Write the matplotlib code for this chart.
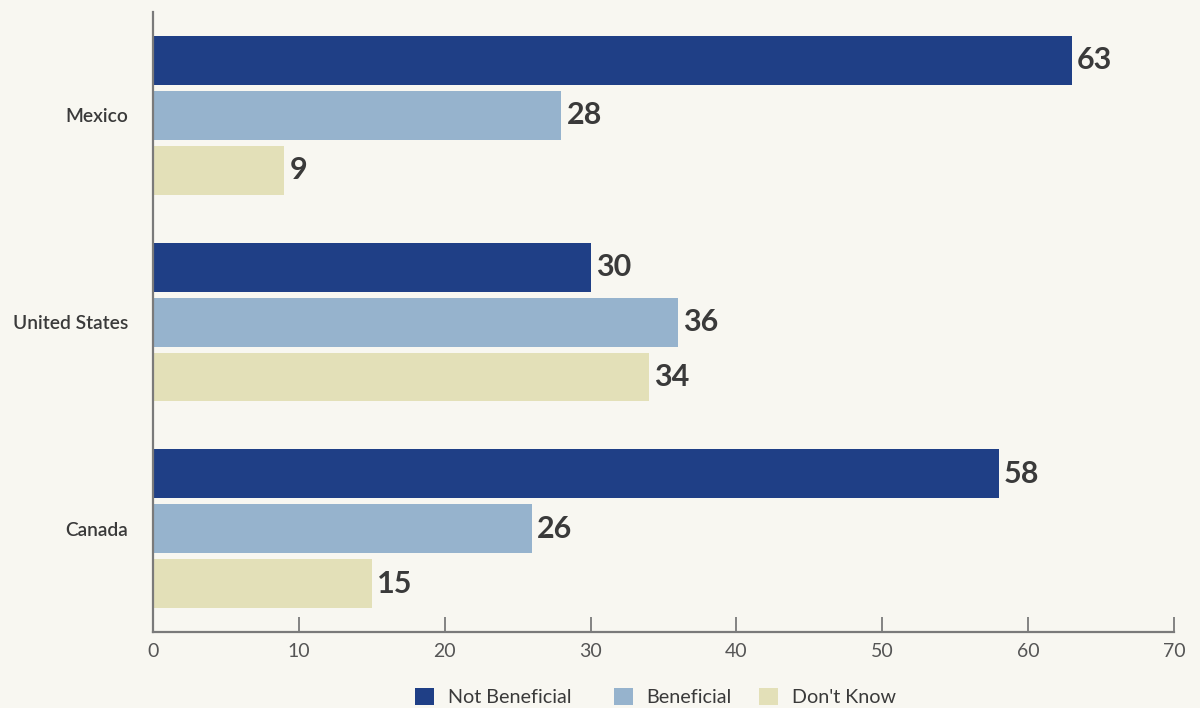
import numpy as np
import matplotlib.pyplot as plt
from matplotlib.patches import Patch

plt.rcParams['font.family'] = ['Lato', 'DejaVu Sans']

# Survey results, percent
countries = ['Canada', 'United States', 'Mexico']
not_beneficial = [58, 30, 63]
beneficial = [26, 36, 28]
dont_know = [15, 34, 9]
series_names = ['Not Beneficial', 'Beneficial', "Don't Know"]
x_ticks = [0, 10, 20, 30, 40, 50, 60, 70]

COLORS = ['#1F3F86', '#96B3CD', '#E3E0B8']
BG = '#F8F7F1'
TEXT = '#3A3A3A'

fig = plt.figure(figsize=(12, 7.08), dpi=100, facecolor=BG)
ax = fig.add_axes([0.1275, 0.1073, 0.8508, 0.8757], facecolor=BG)

y = np.arange(len(countries))
step = 0.266
height = 0.237
offsets = [step, 0, -step]

for vals, off, col in zip([not_beneficial, beneficial, dont_know], offsets, COLORS):
    bars = ax.barh(y + off, vals, height=height, color=col, zorder=2)
    for b, v in zip(bars, vals):
        ax.text(v + 0.35, b.get_y() + b.get_height() / 2, str(v),
                ha='left', va='center', fontsize=22, fontweight='bold',
                color=TEXT)

ax.set_xlim(0, 70)
ax.set_ylim(-0.5, 2.5)
ax.set_xticks(x_ticks)
ax.set_yticks(y)
ax.set_yticklabels(countries, fontsize=13.8, fontweight='semibold', color=TEXT)

for s in ['top', 'right']:
    ax.spines[s].set_visible(False)
for s in ['left', 'bottom']:
    ax.spines[s].set_color('#7A7A7A')
    ax.spines[s].set_linewidth(1.6)

ax.tick_params(axis='x', direction='in', length=11, width=1.3, color='#7A7A7A',
               labelsize=14, labelcolor='#555555', pad=8)
ax.tick_params(axis='y', length=0, pad=18)

# one legend entry per item so each can sit at its own spot
legend_x = [415, 614, 759]
for c, n, lx in zip(COLORS, series_names, legend_x):
    leg = fig.legend(handles=[Patch(facecolor=c, edgecolor='none', label=n)],
                     loc='center left', bbox_to_anchor=(lx / 1200, 11 / 708),
                     frameon=False, fontsize=14.2, handlelength=0.95,
                     handleheight=0.95, handletextpad=0.7, borderpad=0,
                     borderaxespad=0, labelcolor=TEXT)

fig.savefig('out.png', dpi=100, facecolor=BG)
